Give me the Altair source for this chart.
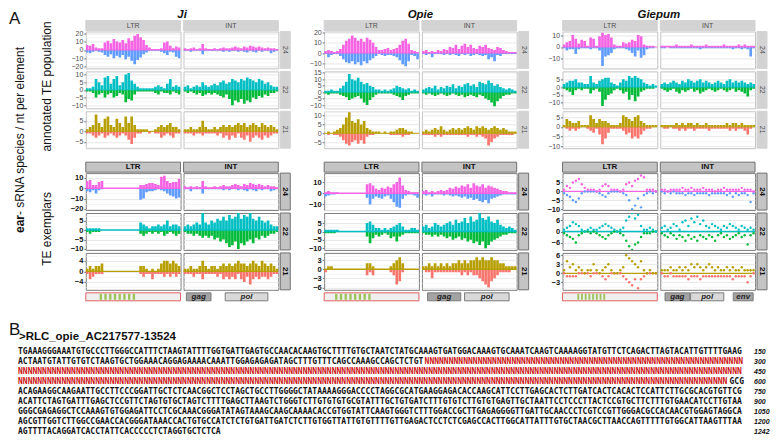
import altair as alt
import pandas as pd

# ------------------------------------------------------------------ data
ELEMENTS = ["Ji", "Opie", "Giepum"]
SECTIONS = ["a", "e"]          # a = annotated TE population, e = TE exemplars
SIZES = [24, 22, 21]
REGIONS = ["LTR", "INT"]

# ---- Ji, annotated population
ji_a_ltr_24p = [6,5,7,3,2,2,9,11, 8,13,10,9,12,8,14,11, 17,19,15,12,6,3,1,1, 1,2,9,10,5,2,4,3]
ji_a_ltr_24n = [-3,-4,-2,-1,-2,-3,-6,-8, -5,-10,-7,-9,-6,-11,-8,-13, -17,-12,-9,-5,-3,-1,-1,-1, -1,-2,-4,-6,-2,-3,-8,-10]
ji_a_ltr_22p = [1,1,2,7,5,3,8,9, 4,7,9,3,5,10,11,6, 4,2,1,1,1,1,1,2, 3,2,1,4,7,2,3,2]
ji_a_ltr_22n = [-1,-1,-2,-5,-3,-2,-5,-3, -2,-5,-4,-2,-3,-8,-6,-7, -3,-1,-1,-1,-1,-1,-1,-2, -3,-1,-2,-2,-3,-1,-2,-3]
ji_a_ltr_21p = [1,2,3,8,4,2,6,7, 3,2,6,4,2,7,4,7, 3,1,1,1,1,0,0,1, 2,3,2,3,4,2,2,1]
ji_a_ltr_21n = [-1,-1,-2,-3,-2,-1,-3,-2, -1,-2,-3,-2,-1,-2,-4,-6, -3,-1,-1,0,0,-1,0,-1, -1,-3,-2,-1,-2,-3,-1,-1]
ji_a_int_24p = [2,1,2,3,1,2,7,2, 1,1,2,1,2,3,2,2, 3,4,3,2,4,3,5,4, 3,4,3,2,3,2,2,1]
ji_a_int_24n = [-1,-1,-2,-1,-1,-1,-5,-1, -1,-1,-1,-1,-1,-2,-1,-2, -1,-1,-2,-1,-2,-3,-1,-2, -3,-1,-2,-1,-1,-4,-2,-1]
ji_a_int_22p = [2,3,1,2,3,2,5,3, 2,3,4,3,5,6,4,5, 7,6,5,7,6,8,7,6, 5,7,6,4,5,3,2,2]
ji_a_int_22n = [-1,-2,-1,-2,-3,-2,-4,-3, -2,-3,-2,-3,-4,-5,-3,-6, -10,-7,-8,-6,-9,-7,-8,-5, -6,-4,-5,-3,-4,-2,-2,-1]
ji_a_int_21p = [1,1,2,1,1,2,5,2, 1,1,2,1,2,3,2,3, 2,3,4,3,4,2,3,4, 3,2,4,3,2,3,2,1]
ji_a_int_21n = [-1,-1,-1,-2,-1,-1,-2,-1, -1,-1,-1,-2,-1,-3,-2,-4, -2,-3,-1,-3,-4,-2,-5,-3, -2,-3,-4,-2,-3,-2,-1,-1]

# ---- Opie, annotated population
op_a_ltr_24p = [2,3,2,1,2,4,8,12, 14,17,15,12,14,11,15,13, 10,6,3,3,4,5,3,4, 5,8,12,14,9,3,2,1]
op_a_ltr_24n = [-1,-4,-2,-1,-1,-3,-6,-9, -10,-8,-11,-9,-12,-8,-10,-7, -5,-3,-1,-2,-3,-2,-2,-3, -4,-7,-11,-13,-8,-2,-3,-6]
op_a_ltr_22p = [1,1,2,1,1,3,5,8, 14,10,9,11,8,6,7,5, 4,2,2,1,2,1,2,3, 5,4,3,2,3,1,2,1]
op_a_ltr_22n = [-1,-2,-1,-1,-1,-2,-3,-4, -6,-5,-4,-3,-5,-8,-10,-6, -4,-2,-1,-1,-1,-1,-1,-2, -3,-4,-6,-3,-2,-1,-1,-1]
op_a_ltr_21p = [0,1,0,1,2,3,5,9, 12,7,6,8,5,7,3,2, 1,1,1,0,1,0,1,1, 2,3,3,2,1,1,0,0]
op_a_ltr_21n = [0,-1,0,-1,-1,-2,-4,-6, -7,-5,-4,-6,-4,-6,-2,-1, -1,0,0,0,0,0,-1,-1, -1,-1,-2,-1,-1,0,0,0]
op_a_int_24p = [2,3,1,2,1,3,2,4, 3,6,5,8,4,7,9,6, 8,5,4,7,6,8,5,4, 3,6,5,3,2,1,1,1]
op_a_int_24n = [-1,-2,-1,-4,-1,-1,-1,-2, -1,-2,-1,-2,-3,-1,-2,-1, -3,-2,-1,-2,-3,-2,-6,-4, -8,-2,-3,-1,-1,-1,-1,-1]
op_a_int_22p = [2,3,4,3,5,2,4,3, 5,4,6,3,5,4,6,7, 5,6,4,8,7,6,9,7, 5,6,4,3,2,3,2,1]
op_a_int_22n = [-1,-2,-1,-2,-3,-2,-1,-2, -3,-2,-1,-2,-3,-2,-4,-3, -2,-3,-4,-2,-3,-5,-6,-8, -11,-7,-5,-3,-2,-2,-1,-1]
op_a_int_21p = [1,2,1,2,3,2,4,2, 1,2,3,2,3,2,3,4, 3,2,4,3,4,3,2,3, 4,3,2,3,2,1,1,1]
op_a_int_21n = [-1,-1,-1,-1,-2,-1,-2,-1, -1,-1,-1,-1,-1,-1,-1,-2, -1,-1,-2,-1,-2,-3,-7,-5, -3,-2,-1,-1,-1,-1,-1,0]

# ---- Giepum, annotated population
gi_a_ltr_24p = [2,4,5,10,7,3,6,5, 1,8,7,1,9,12,10,11, 8,2,1,1,4,3,4,6, 5,10,9,2,1,1,1,0]
gi_a_ltr_24n = [-1,-3,-2,-2,-6,-2,-1,-1, -1,-2,-1,-1,-3,-16,-8,-7, -5,-2,-1,-1,-1,-2,-3,-5, -8,-3,-9,-7,-2,-1,-1,0]
gi_a_ltr_22p = [2,3,4,4,5,3,3,2, 2,7,3,2,4,5,6,6, 3,2,1,3,5,4,7,6, 7,6,5,3,2,1,2,1]
gi_a_ltr_22n = [-1,-2,-3,-5,-2,-1,-2,-1, -1,-4,-2,-1,-3,-12,-8,-5, -4,-2,-1,-2,-4,-3,-8,-5, -9,-6,-3,-2,-1,-1,-1,0]
gi_a_ltr_21p = [1,4,3,2,2,3,1,1, 1,6,4,2,4,3,3,2, 1,1,1,2,6,5,4,3, 5,6,3,2,1,1,1,1]
gi_a_ltr_21n = [0,-1,-2,-1,-2,-1,0,0, -1,-2,-3,-1,-4,-9,-6,-3, -1,-1,-1,-1,-2,-4,-3,-6, -5,-6,-4,-2,-1,-1,0,0]
gi_a_int_24p = [1,1,1,1,1,2,1,1, 1,1,2,1,1,1,1,2, 1,1,1,1,1,2,1,1, 1,1,2,1,2,1,1,1]
gi_a_int_24n = [-1,-1,0,-1,-1,-1,-1,-1, -1,-1,-1,-1,-1,-2,-1,-1, -1,-1,-1,-1,-1,-1,-1,-1, -2,-1,-1,-2,-1,-2,-8,-1]
gi_a_int_22p = [2,3,2,3,4,3,2,4, 3,5,4,3,4,5,3,4, 3,2,3,4,3,2,4,5, 3,4,3,4,3,2,3,2]
gi_a_int_22n = [-1,-2,-3,-2,-1,-3,-4,-2, -3,-2,-1,-3,-2,-4,-3,-2, -1,-2,-3,-2,-1,-2,-3,-2, -1,-3,-2,-3,-4,-6,-2,-1]
gi_a_int_21p = [1,1,1,1,1,2,1,2, 1,2,2,1,2,1,1,2, 1,1,1,1,1,1,2,1, 2,2,1,2,1,1,1,1]
gi_a_int_21n = [0,-1,-1,0,-1,-1,-2,-1, -2,-1,-1,-2,-1,-1,-1,-1, -2,-1,-1,-1,-1,-1,-1,-2, -1,-2,-1,-1,-2,-4,-1,0]

# ---- Ji, exemplar
ji_e_ltr_24p = [7,8,3,3,6,7,0,0, 0,0,0,0,0,0,0,0, 0,0,3,3,4,5,5,4, 3,11,12,7,5,6,6,9]
ji_e_ltr_24n = [-3,-4,-2,-5,-2,-1,0,0, 0,0,0,0,0,0,0,0, 0,0,-11,-10,-4,-3,-3,-2, -1,-2,-3,-5,-7,-8,-10,-9]
ji_e_ltr_22p = [1,1,1,1,1,0,0,0, 0,0,0,0,0,0,0,0, 0,0,4,3,2,1,2,2, 3,2,3,5,2,3,3,2]
ji_e_ltr_22n = [-1,-2,-1,-1,-1,0,0,0, 0,0,0,0,0,0,0,0, 0,0,-2,-3,-2,-1,-2,-1, -2,-1,-3,-2,-1,-2,-3,-2]
ji_e_ltr_21p = [1,2,1,2,2,3,0,0, 0,0,0,0,0,0,0,0, 0,0,2,2,1,0,1,0, 1,3,4,4,3,4,3,2]
ji_e_ltr_21n = [-1,-3,-2,-1,-1,-1,0,0, 0,0,0,0,0,0,0,0, 0,0,-1,-2,-1,-1,-3,-1, -1,-1,-2,-1,-2,-1,-2,-1]
ji_e_int_24p = [2,1,2,1,2,1,7,2, 1,1,2,1,2,3,2,2, 3,4,3,2,4,3,5,4, 3,4,3,2,3,2,2,1]
ji_e_int_24n = [-1,-1,-3,-1,-1,-1,-5,-1, -1,-1,-1,-1,-1,-2,-1,-2, -1,-1,-2,-1,-2,-3,-1,-2, -3,-1,-2,-1,-1,-3,-2,-1]
ji_e_int_22p = [2,3,2,3,4,3,10,4, 3,5,4,6,5,7,5,8, 6,7,9,6,8,7,9,6, 5,7,5,4,5,3,2,2]
ji_e_int_22n = [-1,-2,-2,-3,-2,-3,-4,-3, -4,-3,-5,-4,-6,-5,-7,-9, -8,-6,-10,-7,-8,-6,-5,-7, -4,-5,-3,-4,-3,-2,-2,-1]
ji_e_int_21p = [1,1,2,1,1,2,4,2, 1,2,2,1,2,3,2,3, 2,3,4,3,3,2,3,4, 3,2,4,3,2,3,2,1]
ji_e_int_21n = [-1,-1,-1,-2,-1,-1,-3,-1, -1,-1,-1,-2,-1,-3,-2,-3, -2,-3,-1,-3,-4,-2,-5,-3, -2,-3,-2,-2,-3,-2,-1,-1]

# ---- Opie, exemplar
op_e_ltr_24p = [1,2,1,1,1,0,0,0, 0,0,0,0,0,0,8,9, 7,4,3,5,4,6,5,8, 10,14,7,3,2,1,1,1]
op_e_ltr_24n = [-3,-2,-1,-1,0,0,0,0, 0,0,0,0,0,0,-4,-10, -5,-3,-4,-5,-3,-2,-5,-8, -12,-13,-5,-2,-1,-1,-2,-4]
op_e_ltr_22p = [1,1,1,1,1,0,0,0, 0,0,0,0,0,0,5,6, 4,2,2,1,2,1,2,3, 4,5,3,1,1,2,2,1]
op_e_ltr_22n = [-1,-1,-1,-1,0,0,0,0, 0,0,0,0,0,0,-3,-7, -4,-2,-3,-2,-1,-2,-4,-3, -6,-3,-2,-1,-1,-1,-1,-1]
op_e_ltr_21p = [0,1,1,0,0,0,0,0, 0,0,0,0,0,0,2,2, 1,0,0,0,0,0,1,2, 3,4,2,0,0,0,0,0]
op_e_ltr_21n = [-1,0,0,0,0,0,0,0, 0,0,0,0,0,0,-2,-1, -2,0,0,0,0,0,-1,-2, -5,-4,-1,0,0,0,0,0]
op_e_int_24p = [2,3,1,2,1,2,3,2, 3,5,4,6,5,7,6,8, 5,9,7,6,8,5,7,6, 5,4,3,2,2,1,1,1]
op_e_int_24n = [-1,-2,-1,-3,-1,-1,-1,-2, -1,-2,-3,-2,-3,-4,-3,-5, -4,-6,-5,-7,-8,-6,-9,-5, -4,-3,-2,-1,-1,-1,-1,-1]
op_e_int_22p = [3,4,2,3,5,4,3,4, 5,6,4,7,5,6,8,5, 9,6,7,12,8,7,9,6, 5,7,4,3,2,3,2,1]
op_e_int_22n = [-1,-2,-2,-3,-2,-3,-2,-3, -4,-3,-5,-4,-3,-5,-4,-6, -5,-7,-6,-8,-6,-10,-8,-6, -5,-4,-3,-2,-2,-1,-1,-1]
op_e_int_21p = [1,1,2,1,2,1,2,1, 2,1,2,2,3,2,3,2, 3,3,4,3,4,3,3,4, 3,3,2,2,1,1,1,1]
op_e_int_21n = [0,-1,-1,-3,-1,-1,-1,-1, -1,-1,-1,-1,-1,-2,-1,-2, -1,-2,-2,-3,-4,-5,-6,-4, -3,-2,-1,-1,-1,-1,0,0]

# ---- Giepum, exemplar (drawn as points)
gi_e_ltr_24p = [1,3,2,5,6,7,4,2, 1,1,1,0,1,3,4,3, 1,1,1,0,1,4,5,3, 6,7,9,8,1,1,1,0]
gi_e_ltr_24n = [-1,-2,-3,-5,-6,-4,-1,0, 0,0,0,0,-1,-2,-3,-1, 0,0,0,0,-1,-2,-5,-10, -8,-4,-9,-2,-1,0,-1,0]
gi_e_ltr_22p = [1,2,3,5,4,3,1,0, 1,2,1,1,2,3,4,3, 2,1,0,1,2,6,8,10, 7,9,3,1,1,2,1,0]
gi_e_ltr_22n = [-1,-2,-3,-4,-6,-2,-1,0, 0,-1,0,-1,-2,-3,-4,-2, -1,0,0,-1,-2,-5,-8,-10, -7,-6,-3,-1,-1,-1,0,0]
gi_e_ltr_21p = [1,4,2,3,1,2,1,0, 1,1,3,1,0,1,2,3, 1,0,0,1,2,6,5,4, 3,2,4,1,0,1,0,0]
gi_e_ltr_21n = [0,-1,-1,-1,-1,0,0,0, 0,-1,0,0,0,-1,-2,-1, 0,0,0,0,-1,-2,-3,-4, -2,-5,-2,-1,0,0,0,0]
gi_e_int_24p = [1,1,0,1,1,1,1,2, 1,1,2,1,1,1,2,1, 1,1,0,1,1,2,1,1, 1,1,1,2,1,1,1,0]
gi_e_int_24n = [0,-1,0,-1,0,-1,-1,-1, -2,-1,-1,-2,-1,-1,-1,-1, -2,-1,-1,-1,-1,-1,-2,-1, -3,-1,-2,-1,-1,-2,-6,-1]
gi_e_int_22p = [2,3,1,2,4,3,1,5, 6,3,7,5,8,4,6,3, 2,4,3,2,1,3,2,4, 3,2,1,3,2,1,2,1]
gi_e_int_22n = [-1,-2,-3,-1,-2,-4,-2,-3, -5,-2,-4,-3,-5,-2,-3,-4, -2,-3,-5,-2,-1,-3,-2,-4, -3,-2,-1,-3,-2,-7,-2,-1]
gi_e_int_21p = [1,1,1,2,1,1,2,1, 2,1,3,2,3,2,1,2, 3,2,1,2,1,1,2,1, 2,1,1,2,1,1,1,1]
gi_e_int_21n = [0,-1,-1,0,-1,-1,-1,-1, -1,-2,-1,-1,-1,-2,-1,-1, -1,-1,-1,-1,-1,-1,-1,-1, -2,-1,-1,-1,-1,-3,-1,0]

# y-axis ranges and labelled ticks of every row
YRANGE = {
    ("Ji", "a", 24): ([-22, 22], [-20, -10, 0, 10, 20]),
    ("Ji", "a", 22): ([-12, 12], [-10, -5, 0, 5, 10]),
    ("Ji", "a", 21): ([-8, 9.5], [-5, 0, 5]),
    ("Opie", "a", 24): ([-15, 21], [-10, 0, 10, 20]),
    ("Opie", "a", 22): ([-12.5, 16], [-10, -5, 0, 5, 10, 15]),
    ("Opie", "a", 21): ([-8.5, 12.5], [-5, 0, 5, 10]),
    ("Giepum", "a", 24): ([-18, 13], [-10, 0, 10]),
    ("Giepum", "a", 22): ([-13.5, 10], [-10, -5, 0, 5]),
    ("Giepum", "a", 21): ([-11, 8], [-10, -5, 0, 5]),
    ("Ji", "e", 24): ([-21, 14.5], [-20, -10, 0, 10]),
    ("Ji", "e", 22): ([-10.5, 9], [-10, -5, 0, 5]),
    ("Ji", "e", 21): ([-7, 7], [-4, 0, 4]),
    ("Opie", "e", 24): ([-15, 18], [-10, 0, 10]),
    ("Opie", "e", 22): ([-11, 11], [-10, -5, 0, 5]),
    ("Opie", "e", 21): ([-6.8, 5.4], [-6, -3, 0, 3]),
    ("Giepum", "e", 24): ([-10.5, 10.3], [-10, -5, 0, 5]),
    ("Giepum", "e", 22): ([-10, 10], [-6, 0, 6]),
    ("Giepum", "e", 21): ([-5.5, 6.8], [-3, 0, 3, 6]),
}

SERIES = {}
for _e, _pre in (("Ji", "ji"), ("Opie", "op"), ("Giepum", "gi")):
    for _s in SECTIONS:
        for _r in REGIONS:
            for _z in SIZES:
                _k = "%s_%s_%s_%d" % (_pre, _s, _r.lower(), _z)
                SERIES[(_e, _s, _r, _z)] = (globals()[_k + "p"], globals()[_k + "n"])

# element structure (fractions of the panel width)
LTR_MOTIF = {"Ji": (0.146, 0.52), "Opie": (0.115, 0.49), "Giepum": (0.156, 0.45)}
GENES = {
    "Ji": [("gag", 0.03, 0.29), ("pol", 0.44, 0.89)],
    "Opie": [("gag", 0.06, 0.41), ("pol", 0.45, 0.92)],
    "Giepum": [("gag", 0.05, 0.31), ("pol", 0.32, 0.67), ("env", 0.77, 0.98)],
}

# panel B
SEQ_ID = ">RLC_opie_AC217577-13524"
SEQ_LINES = [
    "TGAAAGGGAAATGTGCCCTTGGGCCATTTCTAAGTATTTTGGTGATTGAGTGCCAACACAAGTGCTTTTGTGCTAATCTATGCAAAGTGATGGACAAAGTGCAAATCAAGTCAAAAGGTATGTTCTCAGACTTAGTACATTGTTTTGAAG",
    "ACTAATGTATTGTGTCTAAGTGCTGGAAACAGGAGAAAACAAATTGGAGAGAGATAGCTTTGTTTCAGCCAAAGCCAGCTCTGT" + "N" * 66,
    "N" * 150,
    "N" * 147 + "GCG",
    "ACAGAAGGCAAGAATTGCCTTCCCGGATTGCTCTCAACGGCTCCTAGCTGCCTTGGGGCTATAAAAGGGACCCCTAGGCGCATGAAGGAGACACCAAGCATTCCTTGAGCACTCTTGATCACTCACACTCCATTCTTGCGCACGTGTTCG",
    "ACATTCTAGTGATTTGAGCTCCGTTCTAGTGTGCTAGTCTTTTGAGCTTAAGTCTGGGTCTTGTGTGTGCGTATTTGCTGTGATCTTTGTGTCTTGTGTGAGTTGCTAATTCCTCCCTTACTCCGTGCTTCTTTGTGAACATCCTTGTAA",
    "GGGCGAGAGGCTCCAAAGTGTGGAGATTCCTCGCAAACGGGATATAGTAAAGCAAGCAAAACACCGTGGTATTCAAGTGGGTCTTTGGACCGCTTGAGAGGGGTTGATTGCAACCCTCGTCCGTTGGGACGCCACAACGTGGAGTAGGCA",
    "AGCGTTGGTCTTGGCCGAACCACGGGATAAACCACTGTGCCATCTCTGTGATTGATCTCTTGTGGTTATTGTGTTTTGTTGAGACTCCTCTCGAGCCACTTGGCATTATTTGTGCTAACGCTTAACCAGTTTTTGTGGCATTAAGTTTAA",
    "AGTTTTACAGGATCACCTATTCACCCCCTCTAGGTGCTCTCA",
]
SEQ_ENDS = ["150", "300", "450", "600", "750", "900", "1050", "1200", "1242"]

# ------------------------------------------------------------------ style
POS_COL = {24: "#F564E3", 22: "#00BFC4", 21: "#B79F00"}
NEG_COL = {24: "#619CFF", 22: "#00BA38", 21: "#F8766D"}
W = 95
H = {"a": 37, "e": 37}
ANN_H = 8
GAP_H = 19
LEFT_W = 74
SPACER_W = 40
FONT = "Liberation Sans"
STRIP = {
    "a": dict(fill="#d3d3d3", stroke="#d3d3d3", color="#505050", size=7, weight="normal"),
    "e": dict(fill="#c4c4c4", stroke="#707070", color="#111111", size=8, weight="bold"),
}
PANEL_STROKE = {"a": "#c2c2c2", "e": "#7d7d7d"}


def minor_of(dom, major):
    step = major[1] - major[0]
    cands = [m - step / 2 for m in major] + [major[-1] + step / 2]
    return [c for c in cands if dom[0] <= c <= dom[1]]


def y_axis(sec, major, minor, show):
    test = "indexof(%s, datum.value) < 0" % str(major)
    return alt.Axis(
        values=sorted(major + minor), title=None, domain=False, labels=show, ticks=show,
        labelExpr="indexof(%s, datum.value) >= 0 ? datum.label : ''" % str(major),
        labelFont=FONT, labelFontSize=7 if sec == "a" else 7.5,
        labelColor="#4d4d4d" if sec == "a" else "#111111",
        labelFontWeight="normal" if sec == "a" else "bold",
        labelPadding=1, labelOverlap=False, tickSize=2,
        tickColor={"condition": {"test": test, "value": "transparent"}, "value": "#777777"},
        gridColor={"condition": {"test": test, "value": "#f3f3f3"}, "value": "#e2e2e2"},
        gridWidth=0.8,
    )


def one(text):
    return pd.DataFrame({"t": [text]})


def blank(w, h):
    return alt.Chart(one("")).mark_text().encode(text="t:N").properties(
        width=w, height=h, view=alt.ViewBackground(stroke="transparent"))


def data_panel(elem, sec, size, region):
    pos, neg = SERIES[(elem, sec, region, size)]
    h = H[sec]
    dom, major = YRANGE[(elem, sec, size)]
    ax = y_axis(sec, major, minor_of(dom, major), region == "LTR")
    n = max(len(pos), len(neg))
    xenc = alt.X("bin:O", axis=None,
                 scale=alt.Scale(domain=list(range(n)), paddingInner=0.1, paddingOuter=0))
    yenc = alt.Y("v:Q", axis=ax, scale=alt.Scale(domain=dom, nice=False, zero=False))
    dpos = pd.DataFrame({"bin": list(range(len(pos))), "v": pos})
    dneg = pd.DataFrame({"bin": list(range(len(neg))), "v": neg})
    zero = alt.Chart(pd.DataFrame({"v": [0]})).mark_rule(
        color=POS_COL[size], strokeWidth=1 if sec == "a" else 1.4).encode(y=yenc)
    if elem == "Giepum" and sec == "e":
        lp = alt.Chart(dpos).mark_circle(color=POS_COL[size], size=6, opacity=1, clip=True).encode(x=xenc, y=yenc)
        ln = alt.Chart(dneg).mark_circle(color=NEG_COL[size], size=6, opacity=1, clip=True).encode(x=xenc, y=yenc)
        layers = [zero, ln, lp]
    else:
        lp = alt.Chart(dpos).mark_bar(color=POS_COL[size], clip=True, strokeWidth=0).encode(x=xenc, y=yenc)
        ln = alt.Chart(dneg).mark_bar(color=NEG_COL[size], clip=True, strokeWidth=0).encode(x=xenc, y=yenc)
        layers = [lp, ln, zero]
    st = STRIP[sec]
    if size == 24:  # strip header above the panel
        layers.append(alt.Chart(one(region)).mark_rect(fill=st["fill"], stroke=st["stroke"], strokeWidth=1).encode(
            x=alt.value(0), x2=alt.value(W), y=alt.value(-11), y2=alt.value(-1)))
        layers.append(alt.Chart(one(region)).mark_text(
            font=FONT, fontSize=st["size"], fontWeight=st["weight"], color=st["color"], baseline="middle"
        ).encode(text="t:N", x=alt.value(W / 2), y=alt.value(-6)))
        if sec == "a" and region == "LTR":
            layers.append(alt.Chart(one(elem)).mark_text(
                font=FONT, fontSize=11.5, fontWeight="bold", fontStyle="italic", baseline="alphabetic",
                color="#111"
            ).encode(text="t:N", x=alt.value(W + 1.5), y=alt.value(-13.5)))
    if region == "INT":  # strip on the right side
        layers.append(alt.Chart(one(str(size))).mark_rect(fill=st["fill"], stroke=st["stroke"], strokeWidth=1).encode(
            x=alt.value(W + 2), x2=alt.value(W + 12), y=alt.value(0), y2=alt.value(h)))
        layers.append(alt.Chart(one(str(size))).mark_text(
            font=FONT, fontSize=st["size"], fontWeight=st["weight"], color=st["color"], angle=90, baseline="middle"
        ).encode(text="t:N", x=alt.value(W + 7), y=alt.value(h / 2)))
    return alt.layer(*layers).properties(
        width=W, height=h, view=alt.ViewBackground(stroke=PANEL_STROKE[sec], fill="white"))


def annot_panel(elem, region):
    xs = alt.Scale(domain=[0, 1], nice=False, zero=False)
    if region == "LTR":
        box = alt.Chart(pd.DataFrame({"s": [0.0], "e": [1.0]})).mark_rect(
            fill="#efefef", stroke="#e06060", strokeWidth=1).encode(
            x=alt.X("s:Q", scale=xs, axis=None), x2="e:Q", y=alt.value(0), y2=alt.value(ANN_H))
        a, b = LTR_MOTIF[elem]
        w = (b - a) / 15
        sd = pd.DataFrame({"s": [a + 2 * i * w for i in range(8)]})
        sd["e"] = sd["s"] + w
        stripes = alt.Chart(sd).mark_rect(fill="#9cc45a").encode(
            x=alt.X("s:Q", scale=xs, axis=None), x2="e:Q", y=alt.value(1), y2=alt.value(ANN_H - 1))
        layers = [box, stripes]
    else:
        gd = pd.DataFrame(GENES[elem], columns=["name", "s", "e"])
        gd["m"] = (gd["s"] + gd["e"]) / 2
        rect = alt.Chart(gd).mark_rect(stroke="#7a7a7a", strokeWidth=1).encode(
            x=alt.X("s:Q", scale=xs, axis=None), x2="e:Q", y=alt.value(0), y2=alt.value(ANN_H),
            fill=alt.Fill("name:N", scale=alt.Scale(domain=["gag", "pol", "env"],
                                                   range=["#a3a3a3", "#d9d9d9", "#a3a3a3"]), legend=None))
        txt = alt.Chart(gd).mark_text(font=FONT, fontSize=8, fontWeight="bold", fontStyle="italic",
                                      color="#222222", baseline="middle").encode(
            x=alt.X("m:Q", scale=xs, axis=None), y=alt.value(ANN_H / 2 + 0.5), text="name:N")
        layers = [rect, txt]
    return alt.layer(*layers).properties(width=W, height=ANN_H,
                                         view=alt.ViewBackground(stroke="transparent"))


left = alt.layer(
    alt.Chart(one("A")).mark_text(font=FONT, fontSize=17, align="left", baseline="top", color="#111").encode(
        text="t:N", x=alt.value(0), y=alt.value(-21)),
    alt.Chart(one("ear")).mark_text(font=FONT, fontSize=12, fontWeight="bold", angle=270, align="right",
                                    baseline="middle", color="#111").encode(
        text="t:N", x=alt.value(11), y=alt.value(184)),
    alt.Chart(one("\u00a0- sRNA species / nt per element")).mark_text(
        font=FONT, fontSize=12, angle=270, align="left", baseline="middle", color="#111").encode(
        text="t:N", x=alt.value(11), y=alt.value(184)),
    alt.Chart(one("annotated TE population")).mark_text(
        font=FONT, fontSize=12, angle=270, align="center", baseline="middle", color="#111").encode(
        text="t:N", x=alt.value(38), y=alt.value(55)),
    alt.Chart(one("TE exemplars")).mark_text(
        font=FONT, fontSize=12, angle=270, align="center", baseline="middle", color="#111").encode(
        text="t:N", x=alt.value(38), y=alt.value(198)),
).properties(width=LEFT_W, height=H["a"], view=alt.ViewBackground(stroke="transparent"))

# grid of cells: left column, then (LTR, INT, spacer) per element
cells = []
for sec in SECTIONS:
    for z in SIZES:
        cells.append(left if (sec == "a" and z == 24) else blank(LEFT_W, H[sec]))
        for i, e in enumerate(ELEMENTS):
            cells.append(data_panel(e, sec, z, "LTR"))
            cells.append(data_panel(e, sec, z, "INT"))
            if i < len(ELEMENTS) - 1:
                cells.append(blank(SPACER_W, H[sec]))
    if sec == "a":
        cells.append(blank(LEFT_W, GAP_H))
        for i, e in enumerate(ELEMENTS):
            cells += [blank(W, GAP_H), blank(W, GAP_H)]
            if i < len(ELEMENTS) - 1:
                cells.append(blank(SPACER_W, GAP_H))
cells.append(blank(LEFT_W, ANN_H))
for i, e in enumerate(ELEMENTS):
    cells += [annot_panel(e, "LTR"), annot_panel(e, "INT")]
    if i < len(ELEMENTS) - 1:
        cells.append(blank(SPACER_W, ANN_H))

part_a = alt.concat(*cells, columns=9, spacing=3, bounds="flush")

# ---- panel B
segs = []
for i, line in enumerate(SEQ_LINES):
    start = 0
    for k in range(1, len(line) + 1):
        if k == len(line) or (line[k] == "N") != (line[start] == "N"):
            segs.append({"row": i, "start": start, "s": line[start:k],
                         "kind": "gap" if line[start] == "N" else "base"})
            start = k
seg_df = pd.DataFrame(segs)
num_df = pd.DataFrame({"row": list(range(len(SEQ_ENDS))), "n": SEQ_ENDS})

WB, HB = 760, 91
xs_b = alt.Scale(domain=[-1.855, 154.75], nice=False, zero=False)
ys_b = alt.Scale(domain=[-0.5, 8.5], nice=False, zero=False, reverse=True)

seq = alt.Chart(seg_df).mark_text(font="DejaVu Sans Mono", fontWeight="bold", fontSize=8.06,
                                  align="left", baseline="middle").encode(
    x=alt.X("start:Q", scale=xs_b, axis=None), y=alt.Y("row:Q", scale=ys_b, axis=None), text="s:N",
    color=alt.Color("kind:N", scale=alt.Scale(domain=["base", "gap"], range=["#111111", "#cc1414"]),
                    legend=None))
nums = alt.Chart(num_df).mark_text(font=FONT, fontSize=7, fontWeight="bold", fontStyle="italic",
                                   align="left", baseline="middle", color="#111").encode(
    x=alt.value(747), y=alt.Y("row:Q", scale=ys_b, axis=None), text="n:N")
hdr = alt.Chart(one(SEQ_ID)).mark_text(font=FONT, fontSize=11.5, fontWeight="bold", align="left",
                                       baseline="middle", color="#111").encode(
    text="t:N", x=alt.value(10), y=alt.value(-10))
blab = alt.Chart(one("B")).mark_text(font=FONT, fontSize=17, align="left", baseline="middle",
                                     color="#111").encode(text="t:N", x=alt.value(0), y=alt.value(-17))
part_b = alt.layer(seq, nums, hdr, blab).properties(
    width=WB, height=HB, view=alt.ViewBackground(stroke="transparent"))

chart = alt.vconcat(part_a, part_b, spacing=17).properties(padding=0)

chart.save("out.html", embed_options={"renderer": "svg", "actions": False})
